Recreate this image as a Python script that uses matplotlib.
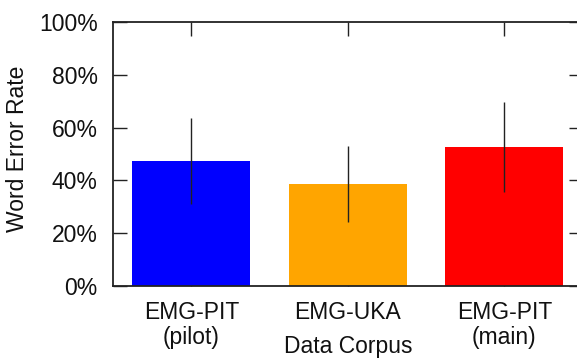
import matplotlib
matplotlib.use("Agg")
import matplotlib.pyplot as plt
from matplotlib.ticker import FuncFormatter

corpora = ["EMG-PIT\n(pilot)", "EMG-UKA", "EMG-PIT\n(main)"]
wer_mean = [47.3, 38.5, 52.6]
wer_err = [16.3, 14.5, 17.2]
bar_colors = ["#0000ff", "#ffa500", "#ff0000"]

plt.rcParams["font.family"] = ["Liberation Sans", "DejaVu Sans"]
plt.rcParams["font.size"] = 16.5

W, H = 577, 358
fig = plt.figure(figsize=(W / 100, H / 100), dpi=100)
left, right, top, bottom = 113, 582.5, 22.2, 285.7
ax = fig.add_axes([left / W, 1 - bottom / H, (right - left) / W, (bottom - top) / H])

x = range(len(corpora))
ax.bar(x, wer_mean, width=0.754, color=bar_colors, zorder=1)
ax.errorbar(x, wer_mean, yerr=wer_err, fmt="none", ecolor="#222222",
            elinewidth=1.0, capsize=0, zorder=3)

ax.set_xlim(-0.5, 2.5)
ax.set_ylim(0, 100)
ax.set_yticks(range(0, 101, 20))
ax.yaxis.set_major_formatter(FuncFormatter(lambda v, _: f"{v:.0f}%"))
ax.set_xticks(list(x))
ax.set_xticklabels(corpora, linespacing=1.1)
ax.set_axisbelow(True)
ax.tick_params(direction="in", length=10, width=1, top=True, right=True,
               color="#222222", labelcolor="#111111")
ax.tick_params(axis="y", pad=11)
ax.tick_params(axis="x", pad=11)
for s in ax.spines.values():
    s.set_linewidth(1.3)
    s.set_color("#222222")

fig.text(18 / W, 1 - 149 / H, "Word Error Rate", rotation=90,
         ha="center", va="center", color="#111111")
fig.text(348 / W, 1 - 353.5 / H, "Data Corpus", ha="center", va="baseline",
         color="#111111")

fig.savefig("out.png", dpi=100)
